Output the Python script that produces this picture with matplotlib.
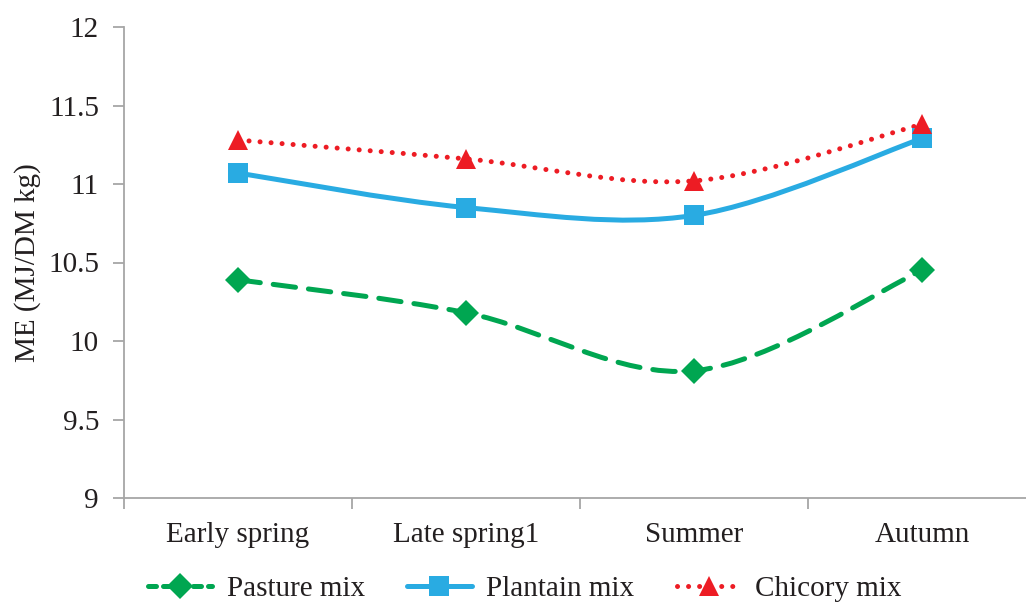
import numpy as np
import matplotlib
matplotlib.use("Agg")
import matplotlib.pyplot as plt
from matplotlib.path import Path
from matplotlib.patches import PathPatch
from matplotlib.lines import Line2D

categories = ["Early spring", "Late spring1", "Summer", "Autumn"]
pasture = [10.39, 10.18, 9.81, 10.45]
plantain = [11.07, 10.85, 10.80, 11.29]
chicory = [11.28, 11.16, 11.02, 11.38]

plt.rcParams['font.family'] = ['Liberation Serif', 'DejaVu Serif']
text_color = '#231F20'
axis_color = '#A6A6A6'
fs = 21

fig = plt.figure(figsize=(10.26, 6.04), dpi=100)
ax = fig.add_axes([124/1026, 1 - 498/604, 912/1026, 471/604])

def smooth_path(xs, ys):
    pts = np.column_stack([xs, ys]).astype(float)
    n = len(pts)
    verts = [pts[0]]
    codes = [Path.MOVETO]
    for i in range(n - 1):
        p0 = pts[i - 1] if i > 0 else pts[i]
        p1 = pts[i]
        p2 = pts[i + 1]
        p3 = pts[i + 2] if i + 2 < n else pts[i + 1]
        c1 = p1 + (p2 - p0) / 6.0
        c2 = p2 - (p3 - p1) / 6.0
        verts += [c1, c2, p2]
        codes += [Path.CURVE4] * 3
    return Path(verts, codes)

x = np.arange(len(categories))
series = [
    ("Pasture mix", pasture, '#00A651', (0, (4.5, 2.6)), (0, (1.6, 1.4)), 'D', 13),
    ("Plantain mix", plantain, '#29ABE2', '-', '-', 's', 14),
    ("Chicory mix", chicory, '#ED1C24', (0, (0.01, 2.2)), (0, (0.01, 2.2)), '^', 15),
]
handles = []
for name, vals, col, ls, lls, mk, ms in series:
    patch = PathPatch(smooth_path(x, vals), facecolor='none', edgecolor=col,
                      lw=3.6, linestyle=ls, capstyle='round', zorder=2)
    if ls == '-':
        patch.set_capstyle('butt')
    ax.add_patch(patch)
    ax.plot(x, vals, linestyle='none', marker=mk, color=col, markersize=ms,
            markeredgewidth=0, zorder=3)
    h = Line2D([], [], color=col, lw=3.6, linestyle=lls, marker=mk,
               markersize=ms, markeredgewidth=0, dash_capstyle='round',
               solid_capstyle='round')
    handles.append(h)

ax.set_xlim(-0.5, 3.5)
ax.set_ylim(9, 12)
ax.set_yticks(np.arange(9, 12.01, 0.5))
ax.set_yticklabels(['9', '9.5', '10', '10.5', '11', '11.5', '12'])
ax.set_xticks(x)
ax.set_xticklabels(categories)
ax.set_xticks([0.5, 1.5, 2.5, -0.5], minor=True)
ax.tick_params(axis='x', which='major', length=0, pad=17, labelsize=fs, labelcolor=text_color)
ax.tick_params(axis='x', which='minor', length=8, width=1.3, color=axis_color, direction='out')
ax.tick_params(axis='y', length=8, width=1.3, color=axis_color, direction='out',
               labelsize=fs, labelcolor=text_color, pad=10)
for s in ['top', 'right']:
    ax.spines[s].set_visible(False)
for s in ['left', 'bottom']:
    ax.spines[s].set_color(axis_color)
    ax.spines[s].set_linewidth(1.3)
ax.set_ylabel('ME (MJ/DM kg)', fontsize=fs, color=text_color, va='center')
ax.yaxis.set_label_coords((28 - 124) / 912, 0.5)

fig.legend(handles, [s[0] for s in series], loc='center', ncol=3,
           bbox_to_anchor=(525/1026, 1 - 589/604), frameon=False,
           fontsize=fs, labelcolor=text_color, handlelength=2.2,
           columnspacing=1.45, handletextpad=0.5)

fig.savefig('out.png', dpi=100)
